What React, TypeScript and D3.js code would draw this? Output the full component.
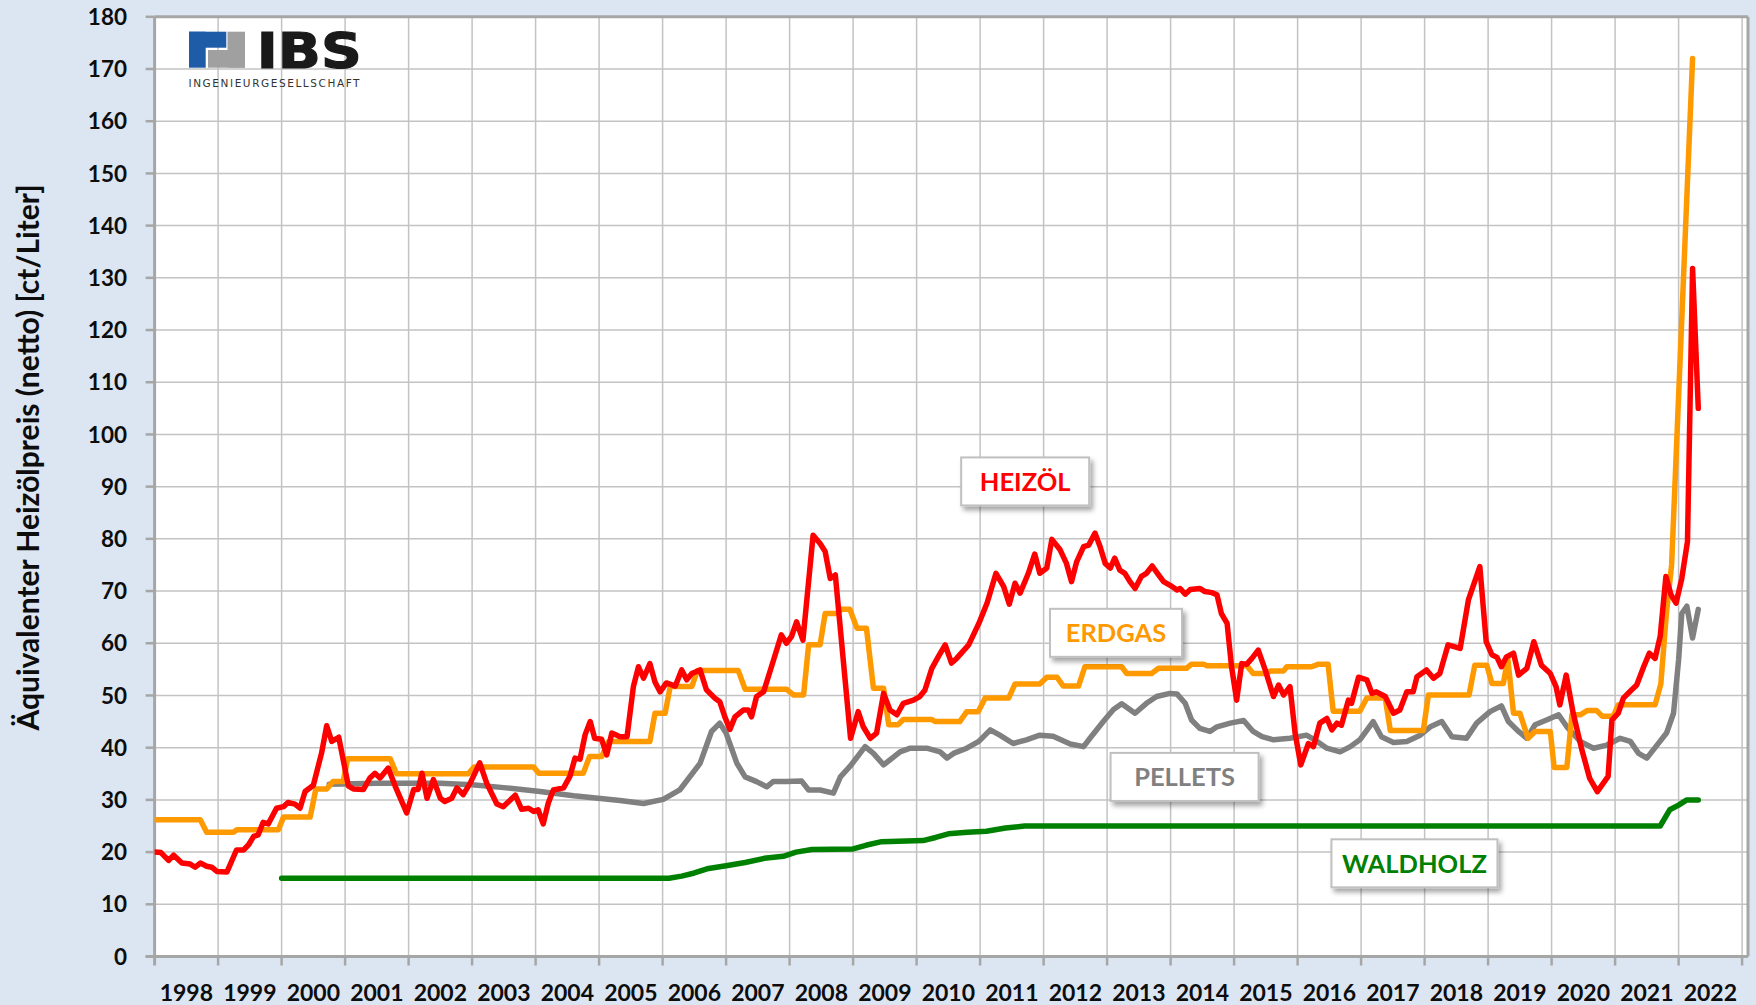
import React from 'react';
import * as d3 from 'd3';

const W = 1756;
const H = 1005;

// Categories / ticks
const yearLabels: number[] = d3.range(1998, 2023);
const yTickValues: number[] = d3.range(0, 181, 10);
const yTitle = 'Äquivalenter Heizölpreis (netto) [ct/Liter]';

// Series: [decimal year, ct/Liter]
const heizoel: [number, number][] = [
  [1998.0, 20], [1998.1, 19.9], [1998.22, 18.4], [1998.3, 19.4], [1998.43, 17.9], [1998.56, 17.7],
  [1998.64, 17.1], [1998.72, 17.9], [1998.82, 17.3], [1998.9, 17.1], [1998.98, 16.3], [1999.14, 16.2],
  [1999.29, 20.4], [1999.4, 20.4], [1999.48, 21.4], [1999.56, 23], [1999.63, 23.3], [1999.71, 25.7],
  [1999.79, 25.4], [1999.92, 28.4], [2000.03, 28.7], [2000.1, 29.5], [2000.21, 29.2], [2000.29, 28.4],
  [2000.37, 31.6], [2000.5, 32.8], [2000.63, 39], [2000.71, 44.2], [2000.79, 41.2], [2000.9, 42],
  [2000.97, 37.7], [2001.05, 32.7], [2001.13, 32.1], [2001.29, 32], [2001.39, 34.2], [2001.47, 35.1],
  [2001.55, 34.2], [2001.68, 36.1], [2001.79, 32.6], [2001.97, 27.5], [2002.08, 32], [2002.15, 32],
  [2002.21, 35.1], [2002.29, 30.3], [2002.39, 33.9], [2002.5, 30.3], [2002.57, 29.7], [2002.68, 30.3],
  [2002.76, 32.3], [2002.86, 31], [2002.97, 33.2], [2003.12, 37.1], [2003.23, 33.2], [2003.39, 29.2],
  [2003.49, 28.7], [2003.68, 30.9], [2003.78, 28.2], [2003.89, 28.4], [2003.97, 27.8], [2004.04, 28.1],
  [2004.12, 25.4], [2004.2, 29.4], [2004.28, 31.9], [2004.44, 32.3], [2004.54, 34.5], [2004.62, 38],
  [2004.7, 37.8], [2004.78, 42.5], [2004.86, 45], [2004.93, 41.8], [2005.04, 41.6], [2005.12, 38.6],
  [2005.2, 42.8], [2005.33, 42.1], [2005.44, 42.1], [2005.54, 51.7], [2005.62, 55.5], [2005.7, 53.3],
  [2005.8, 56.1], [2005.88, 52.6], [2005.96, 50.7], [2006.06, 52.4], [2006.2, 51.8], [2006.3, 54.9],
  [2006.38, 53], [2006.46, 54.2], [2006.59, 54.9], [2006.69, 51.1], [2006.83, 49.4], [2006.9, 48.8],
  [2006.98, 45.9], [2007.06, 43.5], [2007.14, 45.9], [2007.27, 47.2], [2007.35, 47.2], [2007.4, 45.9],
  [2007.48, 49.8], [2007.59, 50.7], [2007.74, 56.5], [2007.87, 61.6], [2007.95, 60], [2008.03, 61.3],
  [2008.11, 64.1], [2008.21, 60.6], [2008.37, 80.7], [2008.48, 79.1], [2008.56, 77.6], [2008.64, 72.4],
  [2008.72, 73.1], [2008.96, 41.8], [2009.08, 46.9], [2009.16, 44], [2009.27, 41.8], [2009.37, 42.8],
  [2009.48, 50.4], [2009.58, 47.2], [2009.69, 46.3], [2009.79, 48.5], [2009.95, 49.1], [2010.05, 49.8],
  [2010.13, 51], [2010.24, 55.2], [2010.34, 57.4], [2010.45, 59.7], [2010.55, 56.2], [2010.63, 57.1],
  [2010.82, 59.7], [2010.98, 63.8], [2011.11, 67.7], [2011.25, 73.4], [2011.37, 70.9], [2011.46, 67.5],
  [2011.55, 71.5], [2011.63, 69.6], [2011.76, 73.4], [2011.86, 77.1], [2011.94, 73.4], [2012.05, 74.4],
  [2012.13, 79.9], [2012.26, 77.9], [2012.36, 75.3], [2012.44, 71.8], [2012.52, 75.6], [2012.63, 78.5],
  [2012.71, 78.8], [2012.81, 81.1], [2012.89, 78.5], [2012.97, 75.3], [2013.05, 74.4], [2013.12, 76.3],
  [2013.2, 74], [2013.28, 73.4], [2013.36, 71.8], [2013.44, 70.5], [2013.54, 72.8], [2013.62, 73.4],
  [2013.71, 74.8], [2013.81, 73.1], [2013.89, 71.8], [2014.02, 70.9], [2014.1, 70.2], [2014.15, 70.5],
  [2014.23, 69.4], [2014.31, 70.3], [2014.46, 70.5], [2014.54, 69.9], [2014.65, 69.7], [2014.73, 69.3],
  [2014.8, 65.7], [2014.89, 63.8], [2014.96, 55.5], [2015.04, 49.1], [2015.12, 56.1], [2015.2, 56],
  [2015.28, 57.1], [2015.38, 58.7], [2015.49, 54.9], [2015.62, 49.8], [2015.7, 52], [2015.78, 50.1],
  [2015.88, 51.7], [2015.96, 42.8], [2016.05, 36.7], [2016.17, 40.8], [2016.25, 40.2], [2016.35, 44.7],
  [2016.46, 45.6], [2016.54, 43.4], [2016.62, 44.7], [2016.69, 44.3], [2016.8, 49.1], [2016.85, 48.5],
  [2016.96, 53.5], [2017.09, 53], [2017.17, 50.4], [2017.24, 50.7], [2017.38, 49.8], [2017.51, 46.6],
  [2017.61, 47.2], [2017.72, 50.7], [2017.82, 50.7], [2017.88, 53.6], [2018.03, 54.9], [2018.14, 53.3],
  [2018.24, 54.2], [2018.37, 59.7], [2018.56, 59], [2018.69, 68.3], [2018.87, 74.7], [2018.97, 60.3],
  [2019.06, 57.8], [2019.14, 57.3], [2019.21, 55.5], [2019.29, 57.4], [2019.4, 58.1], [2019.48, 53.9],
  [2019.61, 55.2], [2019.72, 60.3], [2019.84, 55.8], [2019.98, 54.2], [2020.07, 51.7], [2020.13, 48.2],
  [2020.23, 53.9], [2020.34, 46.6], [2020.47, 39.9], [2020.6, 34.1], [2020.72, 31.6], [2020.89, 34.5],
  [2020.95, 45.3], [2021.05, 46.6], [2021.13, 49.5], [2021.23, 50.7], [2021.34, 52], [2021.45, 55.5],
  [2021.54, 58.1], [2021.63, 57.1], [2021.71, 61.3], [2021.8, 72.8], [2021.88, 69.3], [2021.96, 67.7],
  [2022.05, 72.4], [2022.14, 79.5], [2022.22, 131.8], [2022.31, 105],
];

const erdgas: [number, number][] = [
  [1998.0, 26.2], [1998.72, 26.2], [1998.82, 23.8], [1999.24, 23.8], [1999.3, 24.3], [1999.95, 24.3],
  [2000.03, 26.7], [2000.45, 26.7], [2000.54, 32.1], [2000.71, 32.1], [2000.81, 33.5], [2000.97, 33.5],
  [2001.04, 37.9], [2001.71, 37.9], [2001.81, 35], [2002.94, 35], [2003.03, 36.3], [2003.97, 36.3],
  [2004.05, 35.1], [2004.75, 35.1], [2004.85, 38.3], [2005.04, 38.3], [2005.15, 41.2], [2005.8, 41.2],
  [2005.88, 46.6], [2006.04, 46.6], [2006.12, 51.7], [2006.46, 51.7], [2006.55, 54.8], [2007.19, 54.8],
  [2007.3, 51.2], [2007.95, 51.2], [2008.06, 50.1], [2008.22, 50.1], [2008.3, 59.7], [2008.48, 59.7],
  [2008.56, 65.7], [2008.74, 65.7], [2008.82, 66.5], [2008.95, 66.5], [2009.06, 62.9], [2009.21, 62.9],
  [2009.32, 51.4], [2009.48, 51.4], [2009.56, 44.4], [2009.71, 44.4], [2009.79, 45.4], [2010.24, 45.4],
  [2010.29, 45], [2010.68, 45], [2010.79, 46.9], [2010.97, 46.9], [2011.08, 49.5], [2011.45, 49.5],
  [2011.55, 52.2], [2011.94, 52.2], [2012.05, 53.5], [2012.21, 53.5], [2012.31, 51.8], [2012.55, 51.8],
  [2012.65, 55.5], [2013.23, 55.5], [2013.31, 54.2], [2013.7, 54.2], [2013.81, 55.2], [2014.25, 55.2],
  [2014.33, 56], [2014.52, 56], [2014.57, 55.7], [2015.2, 55.7], [2015.3, 54.2], [2015.51, 54.2],
  [2015.57, 54.7], [2015.78, 54.7], [2015.83, 55.5], [2016.22, 55.5], [2016.33, 56], [2016.48, 56],
  [2016.56, 47], [2016.98, 47], [2017.09, 49.5], [2017.38, 49.5], [2017.46, 43.3], [2017.98, 43.3],
  [2018.06, 50.1], [2018.7, 50.1], [2018.79, 55.8], [2018.98, 55.8], [2019.06, 52.3], [2019.24, 52.3],
  [2019.31, 57.1], [2019.4, 46.6], [2019.5, 46.6], [2019.63, 41.8], [2019.74, 43.1], [2019.98, 43.1],
  [2020.04, 36.2], [2020.24, 36.2], [2020.32, 46.3], [2020.45, 46.3], [2020.56, 47.1], [2020.71, 47.1],
  [2020.8, 46], [2020.97, 46], [2021.05, 48.2], [2021.63, 48.2], [2021.72, 52.2], [2021.81, 66],
  [2021.89, 75], [2022.22, 172],
];

const pellets: [number, number][] = [
  [2000.75, 33], [2001.5, 33.2], [2002.5, 33.2], [2003.0, 32.9], [2003.54, 32.3], [2004.07, 31.6],
  [2004.6, 30.8], [2005.33, 29.9], [2005.7, 29.3], [2006.01, 30.1], [2006.27, 31.9], [2006.59, 37],
  [2006.77, 43.1], [2006.9, 44.7], [2007.0, 42.8], [2007.17, 37], [2007.3, 34.4], [2007.48, 33.5],
  [2007.64, 32.5], [2007.74, 33.5], [2007.95, 33.5], [2008.19, 33.6], [2008.3, 31.9], [2008.48, 31.9],
  [2008.69, 31.3], [2008.8, 34.4], [2008.95, 36.4], [2009.19, 40.2], [2009.32, 38.9], [2009.48, 36.7],
  [2009.74, 39.2], [2009.9, 39.9], [2010.16, 39.9], [2010.37, 39.2], [2010.48, 38], [2010.58, 38.9],
  [2010.79, 39.9], [2010.98, 41.2], [2011.16, 43.4], [2011.31, 42.4], [2011.52, 40.8], [2011.73, 41.5],
  [2011.94, 42.4], [2012.15, 42.2], [2012.42, 40.7], [2012.63, 40.2], [2012.73, 41.8], [2012.94, 45],
  [2013.1, 47.3], [2013.23, 48.4], [2013.44, 46.6], [2013.62, 48.5], [2013.78, 49.8], [2013.99, 50.4],
  [2014.1, 50.3], [2014.23, 48.5], [2014.33, 45.3], [2014.46, 43.7], [2014.62, 43.1], [2014.73, 44],
  [2014.94, 44.7], [2015.15, 45.2], [2015.3, 43.1], [2015.44, 42.1], [2015.62, 41.5], [2015.88, 41.8],
  [2016.14, 42.4], [2016.27, 41.5], [2016.46, 39.9], [2016.67, 39.2], [2016.83, 40.2], [2016.98, 41.5],
  [2017.19, 45], [2017.32, 42.1], [2017.51, 41], [2017.72, 41.2], [2017.93, 42.4], [2018.09, 44],
  [2018.27, 45], [2018.43, 42.1], [2018.66, 41.8], [2018.82, 44.7], [2019.03, 46.9], [2019.21, 48],
  [2019.32, 45], [2019.48, 43.1], [2019.61, 41.8], [2019.74, 44.4], [2019.92, 45.3], [2020.11, 46.3],
  [2020.24, 44], [2020.45, 41.2], [2020.66, 39.9], [2020.87, 40.5], [2021.08, 41.8], [2021.24, 41.2],
  [2021.37, 38.9], [2021.5, 38], [2021.66, 40.5], [2021.81, 42.8], [2021.92, 46.6], [2022.0, 56.8],
  [2022.05, 65.7], [2022.13, 67.1], [2022.22, 61], [2022.31, 66.5],
];

const waldholz: [number, number][] = [
  [2000.0, 15], [2006.1, 15], [2006.3, 15.4], [2006.5, 16], [2006.7, 16.8], [2007.0, 17.4],
  [2007.3, 18], [2007.6, 18.8], [2007.9, 19.2], [2008.1, 20], [2008.35, 20.5], [2009.0, 20.6],
  [2009.2, 21.3], [2009.45, 22], [2010.1, 22.2], [2010.3, 22.8], [2010.5, 23.5], [2010.8, 23.8],
  [2011.1, 24], [2011.4, 24.6], [2011.7, 25], [2021.71, 25], [2021.86, 28.1], [2022.0, 29],
  [2022.13, 30], [2022.31, 30],
];

// Series labels (text, colour, anchor year, anchor value, box width)
const labelTexts = ['HEIZÖL', 'ERDGAS', 'PELLETS', 'WALDHOLZ'];
const labelColors = ['#ff0000', '#ff9900', '#808080', '#008000'];
const labelYears = [2011.71, 2013.14, 2014.22, 2017.84];
const labelValues = [91, 62, 34.4, 17.85];
const labelWidths = [128, 132, 148, 166];

const seriesData = [waldholz, pellets, erdgas, heizoel];
const seriesColors = ['#008000', '#808080', '#ff9900', '#ff0000'];

export default function App() {
  const left = 154.6;
  const right = 1742.1;
  const top = 16.8;
  const bottom = 956.5;
  const x = d3.scaleLinear().domain([1998, 2023]).range([left, right]);
  const y = d3.scaleLinear().domain([0, 180]).range([bottom, top]);
  const line = d3
    .line<[number, number]>()
    .x((d) => x(d[0]))
    .y((d) => y(d[1]));

  const axisColor = '#a6a6a6';
  const gridColor = '#c3c3c3';
  const font = 'Lato, "Open Sans", sans-serif';

  return (
    <svg
      width={W}
      height={H}
      style={{ position: 'absolute', left: 0, top: 0, display: 'block' }}
      fontFamily={font}
    >
      <defs>
        <filter id="shadow" x="-20%" y="-30%" width="150%" height="180%">
          <feDropShadow dx="3" dy="4" stdDeviation="2.5" floodColor="#000" floodOpacity="0.35" />
        </filter>
        <clipPath id="plotClip">
          <rect x={left} y={top - 4} width={1749 - left} height={bottom - top + 8} />
        </clipPath>
      </defs>
      <rect x={0} y={0} width={W} height={H} fill="#dce6f2" />
      <rect x={left} y={top} width={1748 - left} height={bottom - top} fill="#ffffff" />

      {/* horizontal gridlines */}
      {yTickValues.slice(1).map((v) => (
        <line key={'hg' + v} x1={left} x2={1748} y1={y(v)} y2={y(v)} stroke={gridColor} strokeWidth={1.5} />
      ))}
      {/* vertical gridlines */}
      {yearLabels.map((yr) => (
        <line key={'vg' + yr} x1={x(yr + 1)} x2={x(yr + 1)} y1={top} y2={bottom} stroke={gridColor} strokeWidth={1.5} />
      ))}

      {/* border */}
      <line x1={left} x2={1748} y1={top} y2={top} stroke={axisColor} strokeWidth={3} />
      <line x1={1748} x2={1748} y1={top} y2={bottom} stroke={axisColor} strokeWidth={3} />
      <line x1={left} x2={left} y1={top} y2={bottom + 9} stroke={axisColor} strokeWidth={3} />
      <line x1={left - 9} x2={1748} y1={bottom} y2={bottom} stroke={axisColor} strokeWidth={3} />
      {yTickValues.map((v) => (
        <line key={'yt' + v} x1={left - 9} x2={left} y1={y(v)} y2={y(v)} stroke={axisColor} strokeWidth={2.5} />
      ))}
      {yearLabels.map((yr) => (
        <line key={'xt' + yr} x1={x(yr + 1)} x2={x(yr + 1)} y1={bottom} y2={bottom + 9} stroke={axisColor} strokeWidth={2.5} />
      ))}

      {/* Logo */}
      <g>
        <rect x={189} y={31.7} width={16.7} height={36} fill="#1f5ca8" />
        <rect x={189} y={31.7} width={37.3} height={16} fill="#1f5ca8" />
        <rect x={227.5} y={31.7} width={17.5} height={36} fill="#a0a0a0" />
        <rect x={208} y={50} width={37} height={17.7} fill="#a0a0a0" />
        <text
          x={256.7}
          y={67.7}
          fontFamily='"DejaVu Sans", sans-serif'
          fontWeight={700}
          fontSize={49}
          fill="#1a1a1a"
          stroke="#1a1a1a"
          strokeWidth={1.2}
          textLength={105}
          lengthAdjust="spacingAndGlyphs"
        >
          IBS
        </text>
        <text
          x={188.5}
          y={86.7}
          fontFamily='"DejaVu Sans", sans-serif'
          fontSize={10.5}
          fill="#333"
          textLength={171}
          lengthAdjust="spacing"
        >
          INGENIEURGESELLSCHAFT
        </text>
      </g>

      {/* series */}
      <g clipPath="url(#plotClip)">
        {seriesData.map((s, i) => (
          <path
            key={'s' + i}
            d={line(s) || ''}
            fill="none"
            stroke={seriesColors[i]}
            strokeWidth={5.5}
            strokeLinejoin="round"
            strokeLinecap="round"
          />
        ))}
      </g>

      {/* labels */}
      {labelTexts.map((t, i) => {
        const cx = x(labelYears[i]);
        const cy = y(labelValues[i]);
        const w = labelWidths[i];
        const h = 48;
        return (
          <g key={'lb' + t}>
            <rect
              x={cx - w / 2}
              y={cy - h / 2}
              width={w}
              height={h}
              fill="#ffffff"
              stroke="#c0c0c0"
              strokeWidth={2}
              filter="url(#shadow)"
            />
            <text
              x={cx}
              y={cy + 9.3}
              textAnchor="middle"
              fontWeight={700}
              fontSize={25.5}
              fill={labelColors[i]}
            >
              {t}
            </text>
          </g>
        );
      })}

      {/* y tick labels */}
      {yTickValues.map((v) => (
        <text
          key={'yl' + v}
          x={127}
          y={y(v) + 8.2}
          textAnchor="end"
          fontWeight={700}
          fontSize={22.5}
          fill="#0d0d0d"
        >
          {v}
        </text>
      ))}
      {/* x tick labels */}
      {yearLabels.map((yr) => (
        <text
          key={'xl' + yr}
          x={x(yr + 0.5)}
          y={1000.5}
          textAnchor="middle"
          fontWeight={700}
          fontSize={23}
          fill="#0d0d0d"
        >
          {yr}
        </text>
      ))}

      {/* y title */}
      <text
        transform={`translate(39, 457.5) rotate(-90)`}
        textAnchor="middle"
        fontWeight={700}
        fontSize={30}
        fill="#0d0d0d"
      >
        {yTitle}
      </text>
    </svg>
  );
}
